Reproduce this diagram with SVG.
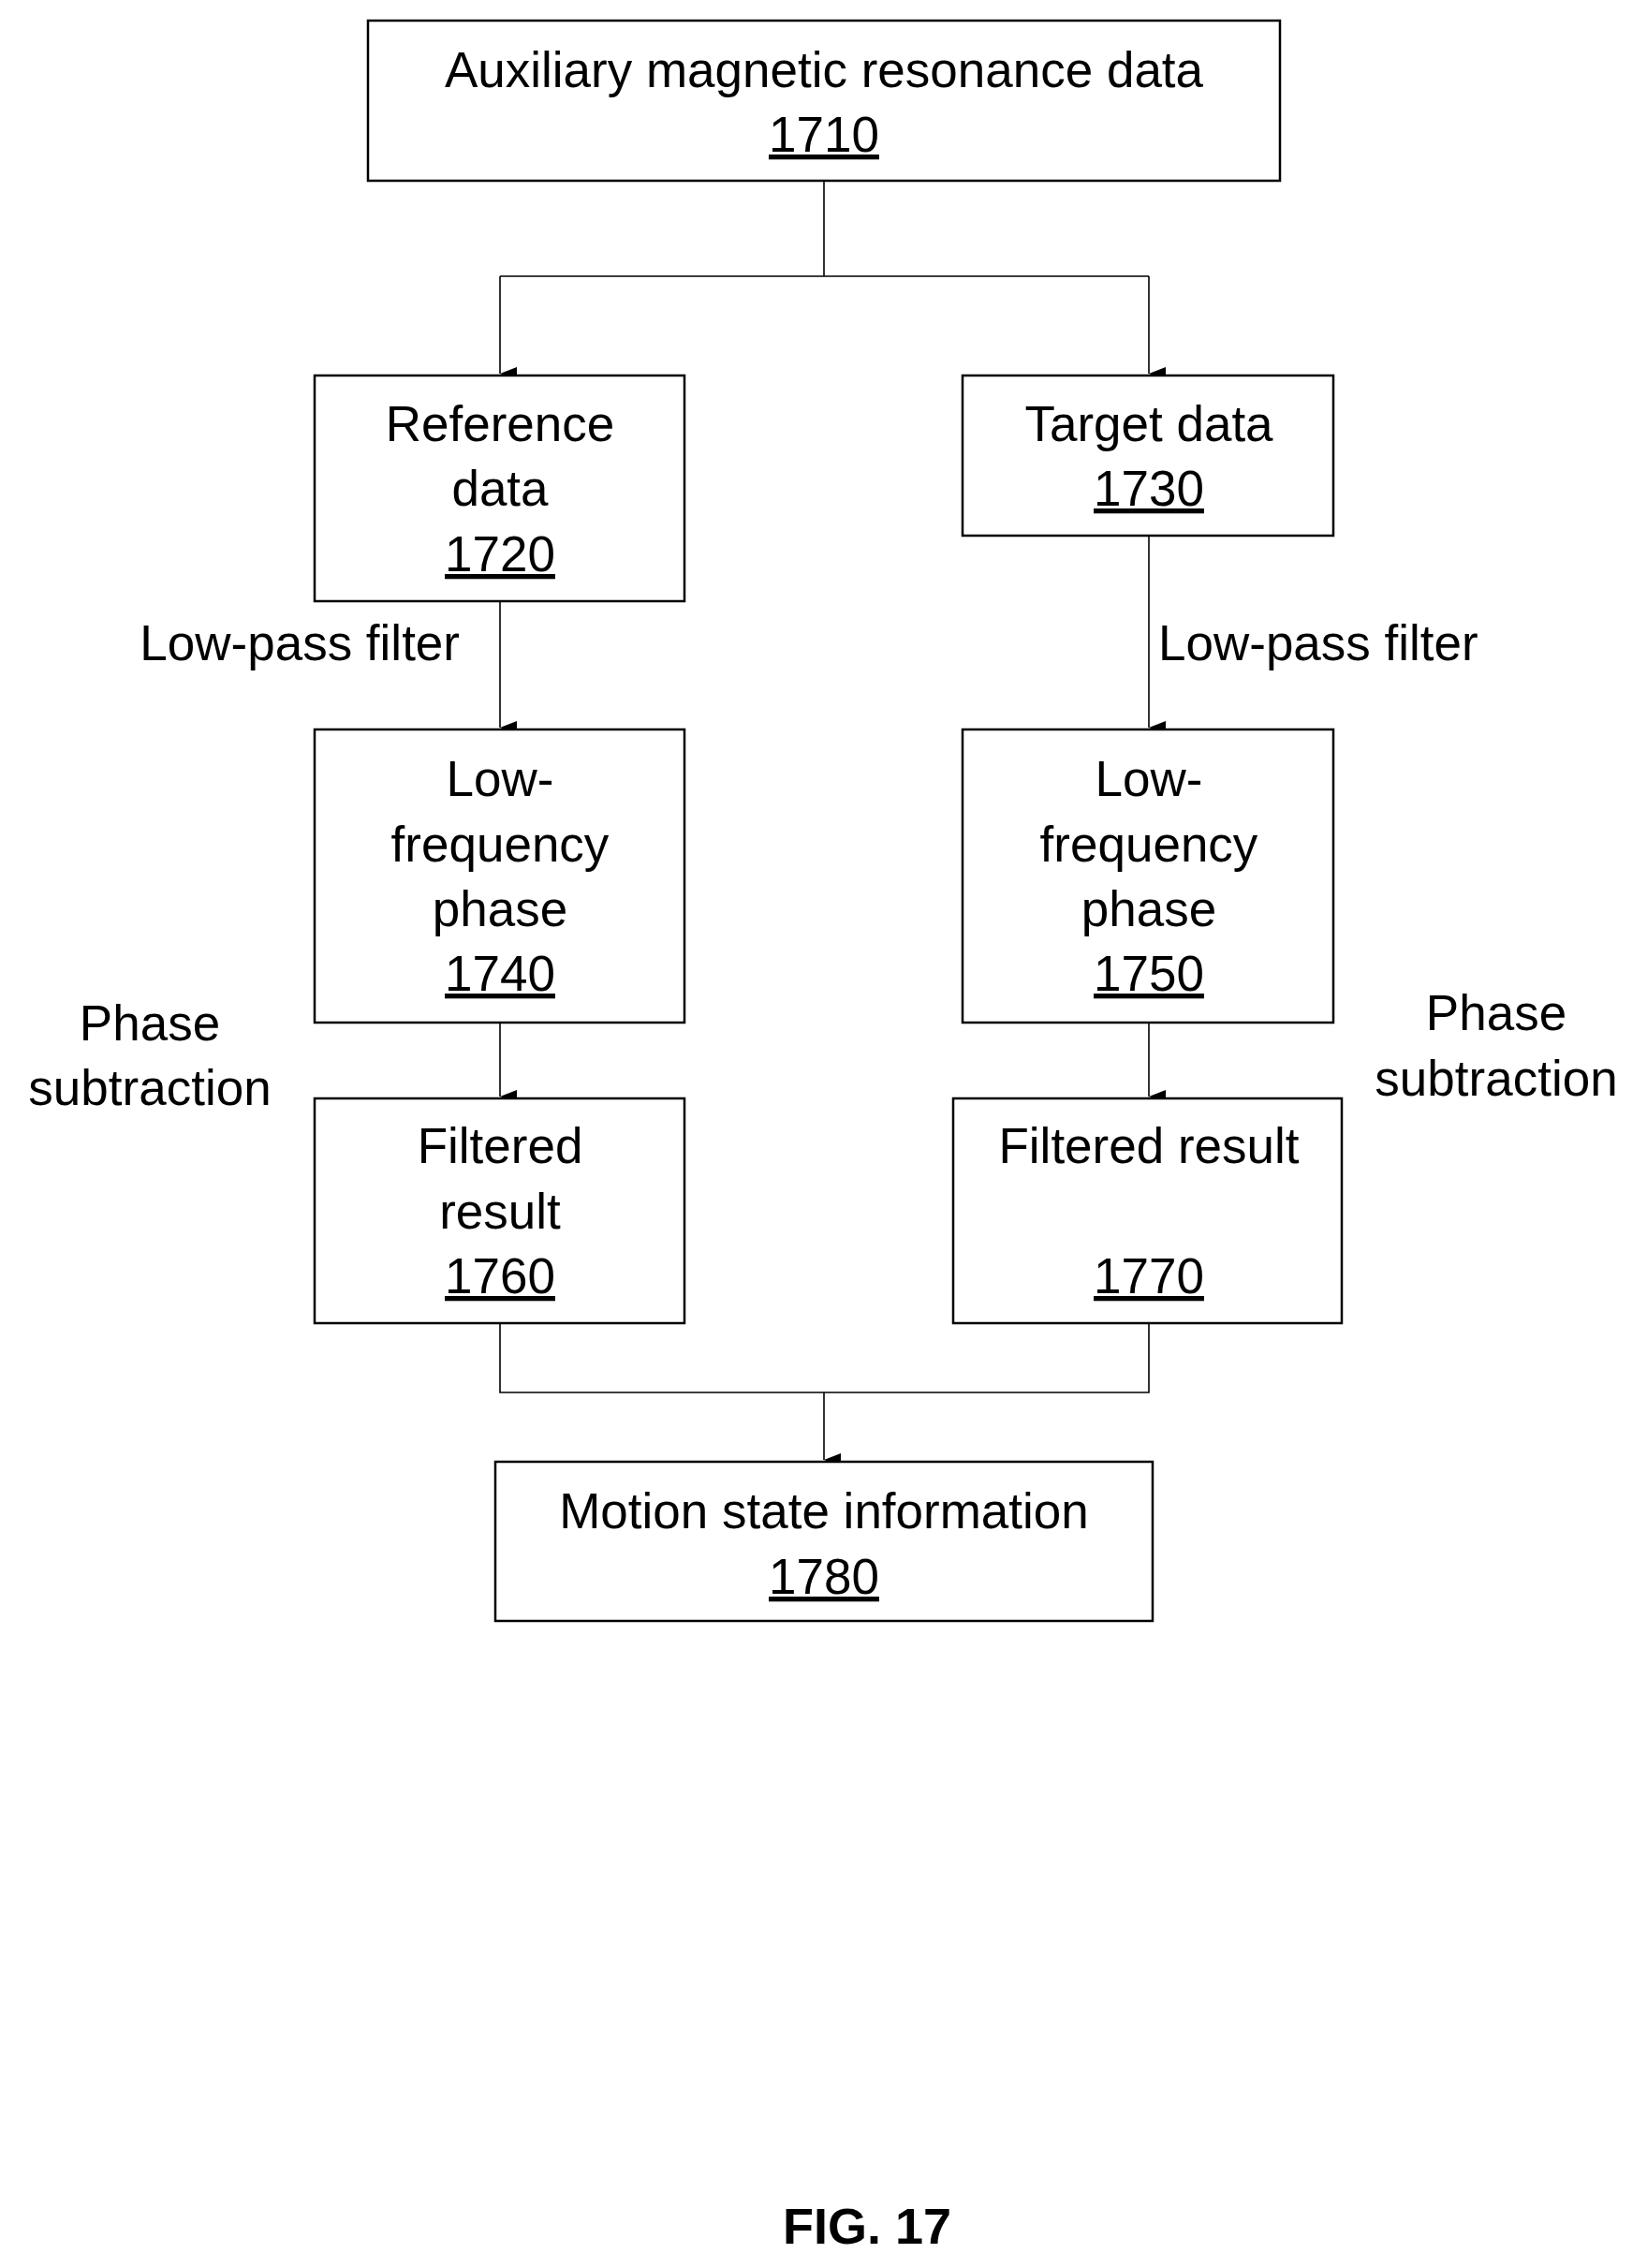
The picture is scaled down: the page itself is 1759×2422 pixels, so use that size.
<svg xmlns="http://www.w3.org/2000/svg" width="1759" height="2422" viewBox="0 0 1759 2422">
<style>
.b{fill:#fff;stroke:#000;stroke-width:2.5}
text{font-family:"Liberation Sans",Arial,sans-serif;font-size:53px;fill:#000}
.c{text-anchor:middle}
.u{text-decoration:underline}
.l{fill:none;stroke:#000;stroke-width:1.6}
</style>
<defs><marker id="a" markerWidth="14" markerHeight="18" refX="7" refY="18" orient="auto" markerUnits="userSpaceOnUse" viewBox="0 0 14 18"><path d="M0,0 L14,0 L7,18 Z" fill="#000"/></marker></defs>
<rect width="1759" height="2422" fill="#fff"/>
<g id="connectors">
<path class="l" d="M880,193 V295 M534,295 H1227"/>
<path class="l" d="M534,295 V399" marker-end="url(#a)"/>
<path class="l" d="M1227,295 V399" marker-end="url(#a)"/>
<path class="l" d="M534,642 V777" marker-end="url(#a)"/>
<path class="l" d="M1227,572 V777" marker-end="url(#a)"/>
<path class="l" d="M534,1092 V1171" marker-end="url(#a)"/>
<path class="l" d="M1227,1092 V1171" marker-end="url(#a)"/>
<path class="l" d="M534,1413 V1487 H1227 V1413 M880,1487"/>
<path class="l" d="M880,1487 V1559" marker-end="url(#a)"/>
<text x="491" y="705" text-anchor="end">Low-pass filter</text>
<text x="1237" y="705">Low-pass filter</text>
<text class="c" x="160" y="1111">Phase</text>
<text class="c" x="160" y="1180">subtraction</text>
<text class="c" x="1598" y="1100">Phase</text>
<text class="c" x="1598" y="1170">subtraction</text>
</g>
<g id="n1710"><rect class="b" x="393" y="22" width="974" height="171"/><text class="c" x="880" y="93">Auxiliary magnetic resonance data</text><text class="c u" x="880" y="162">1710</text></g>
<g id="n1720"><rect class="b" x="336" y="401" width="395" height="241"/><text class="c" x="534" y="471">Reference</text><text class="c" x="534" y="540">data</text><text class="c u" x="534" y="610">1720</text></g>
<g id="n1730"><rect class="b" x="1028" y="401" width="396" height="171"/><text class="c" x="1227" y="471">Target data</text><text class="c u" x="1227" y="540">1730</text></g>
<g id="n1740"><rect class="b" x="336" y="779" width="395" height="313"/><text class="c" x="534" y="850">Low-</text><text class="c" x="534" y="920">frequency</text><text class="c" x="534" y="989">phase</text><text class="c u" x="534" y="1058">1740</text></g>
<g id="n1750"><rect class="b" x="1028" y="779" width="396" height="313"/><text class="c" x="1227" y="850">Low-</text><text class="c" x="1227" y="920">frequency</text><text class="c" x="1227" y="989">phase</text><text class="c u" x="1227" y="1058">1750</text></g>
<g id="n1760"><rect class="b" x="336" y="1173" width="395" height="240"/><text class="c" x="534" y="1242">Filtered</text><text class="c" x="534" y="1312">result</text><text class="c u" x="534" y="1381">1760</text></g>
<g id="n1770"><rect class="b" x="1018" y="1173" width="415" height="240"/><text class="c" x="1227" y="1242">Filtered result</text><text class="c u" x="1227" y="1381">1770</text></g>
<g id="n1780"><rect class="b" x="529" y="1561" width="702" height="170"/><text class="c" x="880" y="1632">Motion state information</text><text class="c u" x="880" y="1702">1780</text></g>
<text class="c" x="926" y="2396" font-weight="bold" style="font-size:54px">FIG. 17</text>
</svg>
